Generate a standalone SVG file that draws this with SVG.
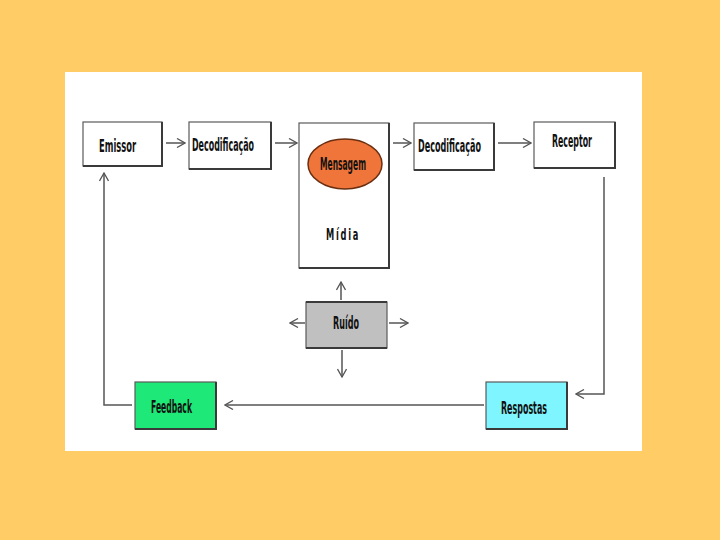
<svg xmlns="http://www.w3.org/2000/svg" width="720" height="540" viewBox="0 0 720 540">
<defs>
<style>
.box{stroke:#5a5a5a;stroke-width:1.2}
.sh{stroke:#3a3a3a;stroke-width:2;fill:none}
.lbl{font-family:"DejaVu Sans Condensed","DejaVu Sans",sans-serif;font-weight:bold;font-size:18px;fill:#111}
.ln{stroke:#555;stroke-width:1.5;fill:none}
</style>
<marker id="ah" viewBox="0 0 10 10" refX="9" refY="5" markerWidth="10" markerHeight="10" markerUnits="userSpaceOnUse" orient="auto">
<path d="M1,0.5 L9,5 L1,9.5" fill="none" stroke="#555" stroke-width="1.3"/>
</marker>
</defs>
<rect width="720" height="540" fill="#FFCC66"/>
<rect x="65" y="72" width="577" height="379" fill="#FFFFFF"/>

<g id="connectors">
<line class="ln" x1="166" y1="143" x2="185" y2="143" marker-end="url(#ah)"/>
<line class="ln" x1="275" y1="143" x2="297" y2="143" marker-end="url(#ah)"/>
<line class="ln" x1="393" y1="143" x2="411" y2="143" marker-end="url(#ah)"/>
<line class="ln" x1="498" y1="143" x2="531" y2="143" marker-end="url(#ah)"/>
<polyline class="ln" points="604,177 604,394 576,394" marker-end="url(#ah)"/>
<line class="ln" x1="484" y1="405" x2="225" y2="405" marker-end="url(#ah)"/>
<polyline class="ln" points="132,405 104,405 104,173" marker-end="url(#ah)"/>
<line class="ln" x1="341" y1="300" x2="341" y2="282" marker-end="url(#ah)"/>
<line class="ln" x1="342" y1="350" x2="342" y2="377" marker-end="url(#ah)"/>
<line class="ln" x1="305" y1="323" x2="290" y2="323" marker-end="url(#ah)"/>
<line class="ln" x1="389" y1="323" x2="408" y2="323" marker-end="url(#ah)"/>
</g>

<g id="emissor">
<rect class="box" x="83" y="122" width="79" height="44" fill="#fff"/>
<polyline class="sh" points="83,166 162,166 162,122"/>
<text class="lbl" x="99" y="152" textLength="37" lengthAdjust="spacingAndGlyphs">Emissor</text>
</g>
<g id="decodificacao1">
<rect class="box" x="189" y="122" width="82" height="47" fill="#fff"/>
<polyline class="sh" points="189,169 271,169 271,122"/>
<text class="lbl" x="192" y="151" textLength="62" lengthAdjust="spacingAndGlyphs">Decodificação</text>
</g>
<g id="midia">
<rect class="box" x="299" y="123" width="90" height="145" fill="#fff"/>
<polyline class="sh" points="299,268 389,268 389,123"/>
<ellipse cx="345" cy="164" rx="37" ry="25" fill="#F0753A" stroke="#6a2e10" stroke-width="1.5"/>
<text class="lbl" x="320" y="170" textLength="46" lengthAdjust="spacingAndGlyphs">Mensagem</text>
<text class="lbl" x="326" y="240" textLength="34" lengthAdjust="spacingAndGlyphs" style="font-size:16px;letter-spacing:3px">Mídia</text>
</g>
<g id="decodificacao2">
<rect class="box" x="414" y="123" width="80" height="47" fill="#fff"/>
<polyline class="sh" points="414,170 494,170 494,123"/>
<text class="lbl" x="418" y="152" textLength="63" lengthAdjust="spacingAndGlyphs">Decodificação</text>
</g>
<g id="receptor">
<rect class="box" x="534" y="122" width="81" height="46" fill="#fff"/>
<polyline class="sh" points="534,168 615,168 615,122"/>
<text class="lbl" x="552" y="147" textLength="40" lengthAdjust="spacingAndGlyphs">Receptor</text>
</g>
<g id="ruido">
<rect class="box" x="306" y="302" width="81" height="46" fill="#C0C0C0"/>
<polyline class="sh" points="306,302 387,302"/>
<polyline class="sh" points="306,348 387,348"/>
<text class="lbl" x="333" y="329" textLength="26" lengthAdjust="spacingAndGlyphs">Ruído</text>
</g>
<g id="feedback">
<rect class="box" x="135" y="382" width="81" height="47" fill="#1DE878"/>
<polyline class="sh" points="135,429 216,429 216,382"/>
<text class="lbl" x="151" y="413" textLength="41" lengthAdjust="spacingAndGlyphs">Feedback</text>
</g>
<g id="respostas">
<rect class="box" x="486" y="382" width="81" height="47" fill="#7FF6FF"/>
<polyline class="sh" points="486,429 567,429 567,382"/>
<text class="lbl" x="501" y="414" textLength="46" lengthAdjust="spacingAndGlyphs">Respostas</text>
</g>
</svg>
